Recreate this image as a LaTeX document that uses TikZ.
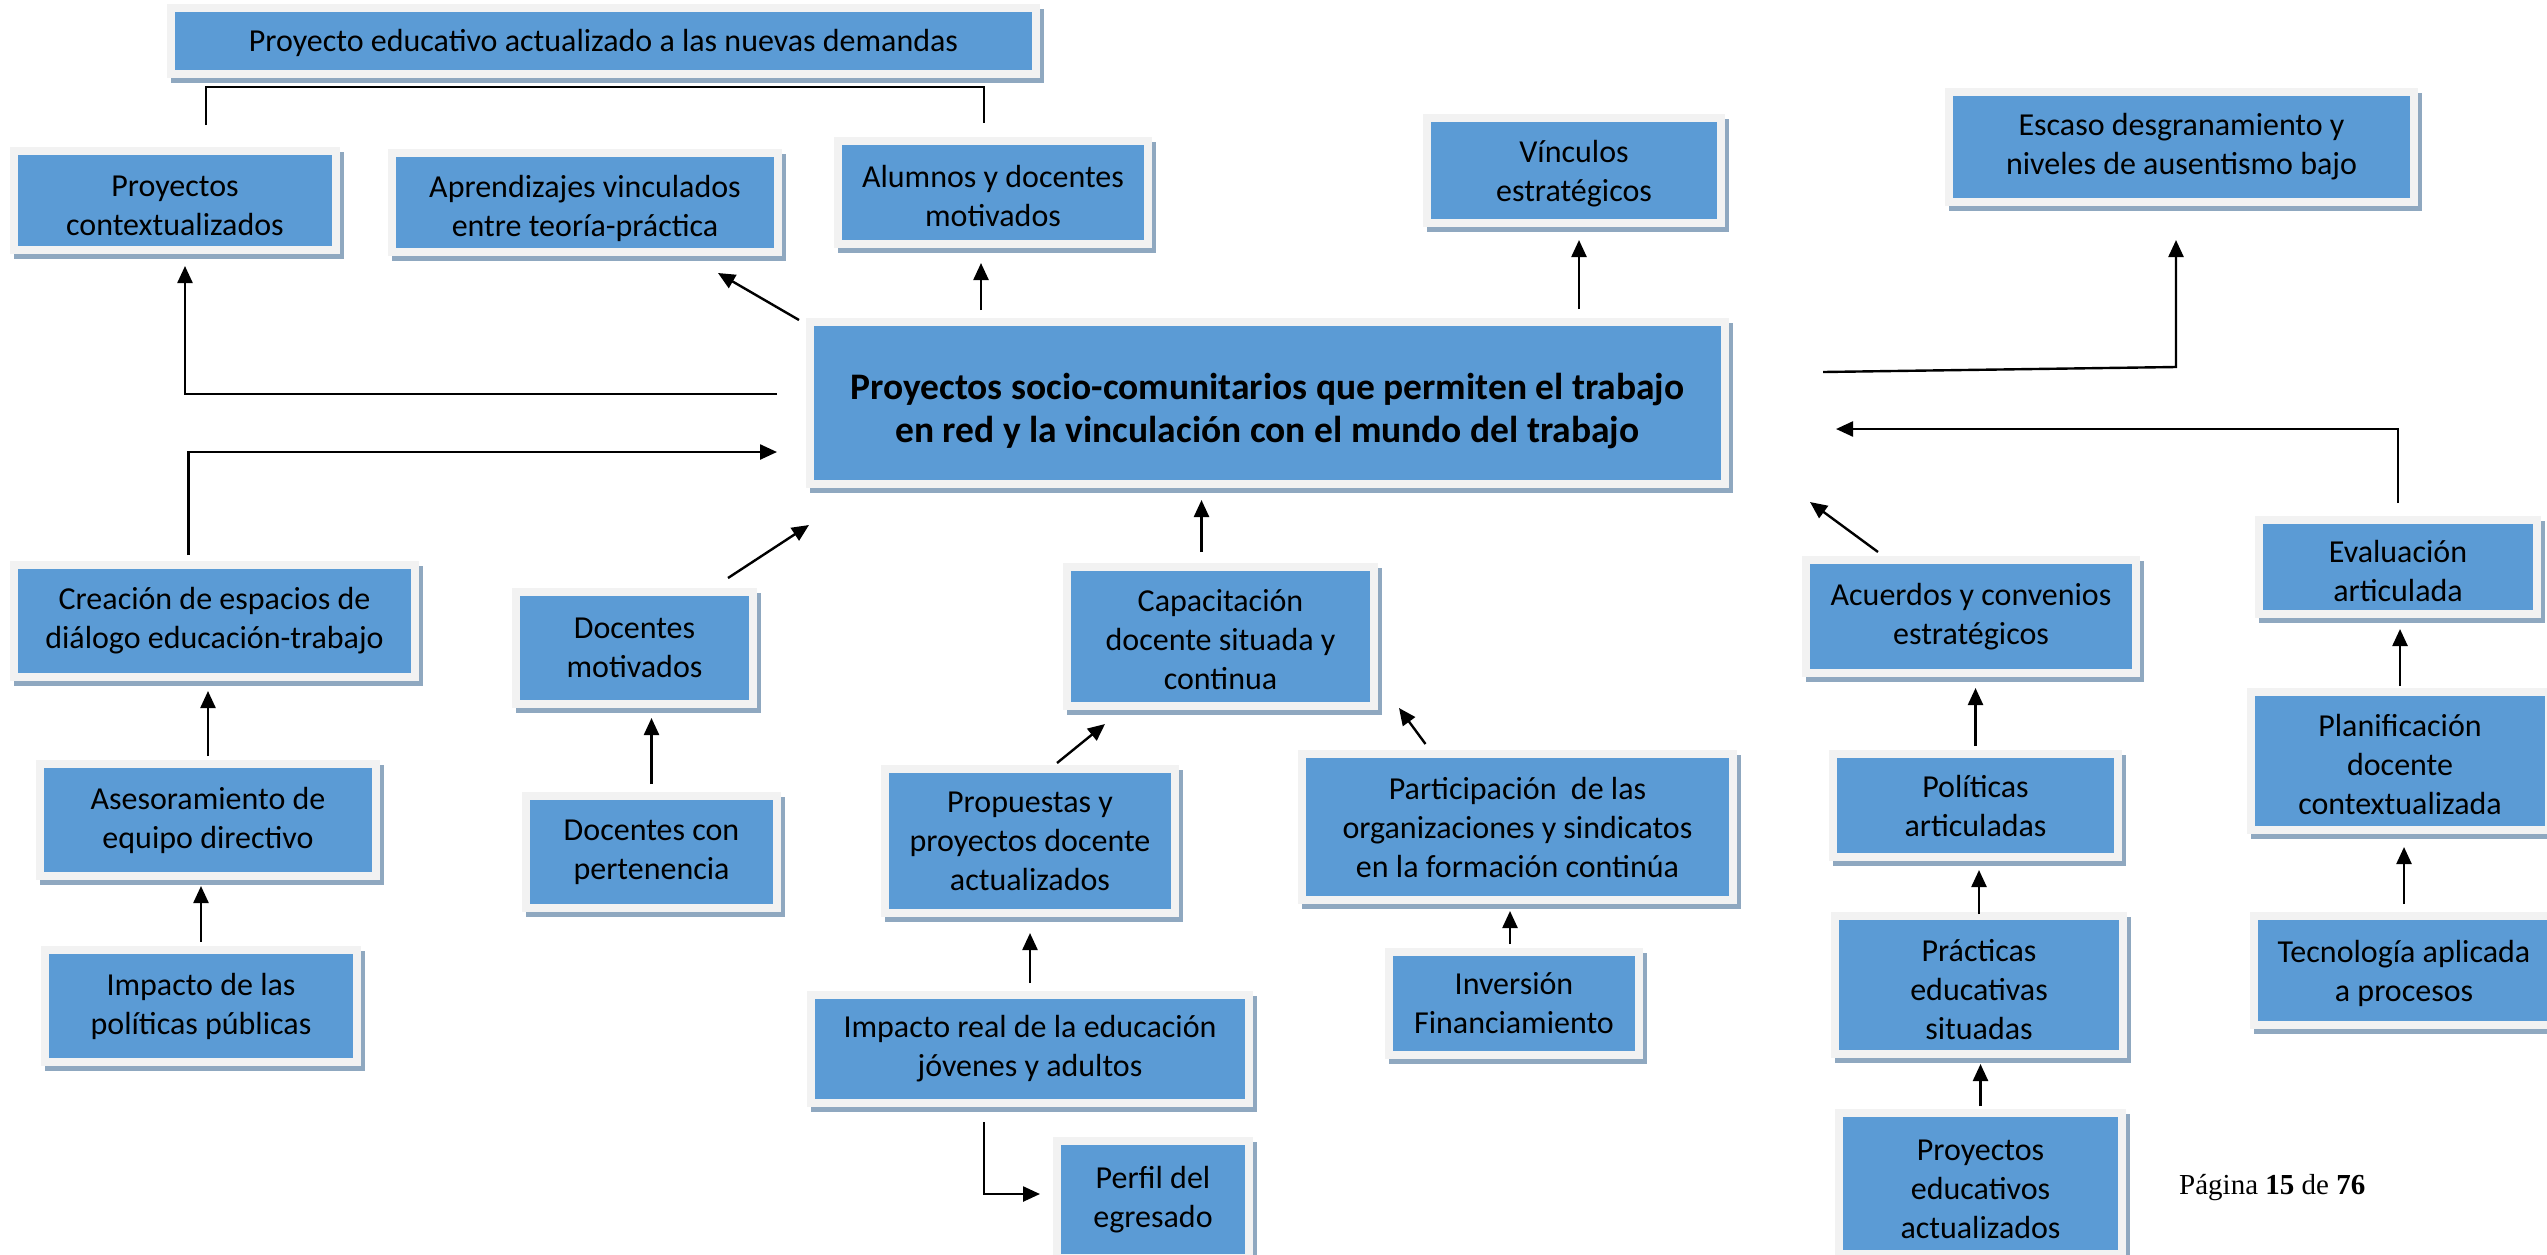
\documentclass[tikz,border=0pt]{standalone}
\usepackage{fontspec}
\setmainfont{Carlito}
\newfontfamily\pagefont{Liberation Serif}
\usetikzlibrary{arrows.meta,calc}
\definecolor{boxblue}{HTML}{5B9BD5}
\definecolor{boxframe}{HTML}{F2F2F2}
\definecolor{boxshadow}{HTML}{8FA8C0}
\tikzset{
  bx/.style={draw=boxframe, line width=8pt, fill=boxblue, outer sep=0pt, inner sep=0pt,
    preaction={draw=boxshadow, fill=boxshadow, line width=8pt, transform canvas={xshift=4pt, yshift=-5pt}}},
  txt/.style={align=center, text=black, inner sep=0pt, font=\fontsize{32}{39}\selectfont},
  arr/.style={line width=2.4pt, -{Triangle[length=17pt,width=15pt]}},
  ln/.style={line width=2.4pt},
}
% frame box: [text shift down], name, x1, y1, x2, y2, text
\newcommand{\fbx}[7][0]{%
  \node[bx, minimum width={#5-#3-8}, minimum height={#6-#4-8}] (#2) at ({(#3+#5)/2},{(#4+#6)/2}) {};
  \node[txt] (#2-t) at ([yshift=-#1pt]#2.center) {#7};}
\begin{document}
\begin{tikzpicture}[x=1pt,y=-1pt]
\fill[white] (0,0) rectangle (2547,1254);
\useasboundingbox (0,0) rectangle (2547,1254);
\begin{scope}
\clip (0,0) rectangle (2547,1254);
\fbx[2]{top}{167}{4}{1040}{78}{Proyecto educativo actualizado a las nuevas demandas}
\fbx[5]{pc}{10}{147}{340}{254}{Proyectos\\contextualizados}
\fbx[6]{apr}{388}{149}{782}{256}{Aprendizajes vinculados\\entre teoría-práctica}
\fbx[3]{alu}{834}{137}{1152}{248}{Alumnos y docentes\\motivados}
\fbx[3]{vin}{1423}{114}{1725}{227}{Vínculos\\estratégicos}
\fbx{esc}{1945}{88}{2418}{206}{Escaso desgranamiento y\\niveles de ausentismo bajo}
\node[bx, minimum width={1729-806-8}, minimum height={488-318-8}] (cen) at ({(806+1729)/2},{(318+488)/2}) {};
\node[txt, font=\fontsize{37.5}{43}\selectfont\bfseries] (cen-t) at ([yshift=-8pt]cen.center) {Proyectos socio-comunitarios que permiten el trabajo\\en red y la vinculación con el mundo del trabajo};
\fbx{cre}{10}{561}{419}{681}{Creación de espacios de\\diálogo educación-trabajo}
\fbx{dmo}{512}{588}{757}{708}{Docentes\\motivados}
\fbx[3]{cap}{1063}{563}{1378}{710}{Capacitación\\docente situada y\\continua}
\fbx{acu}{1802}{556}{2140}{677}{Acuerdos y convenios\\estratégicos}
\fbx[4]{eva}{2255}{516}{2541}{618}{Evaluación\\articulada}
\fbx{ase}{36}{760}{380}{880}{Asesoramiento de\\equipo directivo}
\fbx{dcp}{522}{792}{781}{912}{Docentes con\\pertenencia}
\fbx{pro}{881}{765}{1179}{917}{Propuestas y\\proyectos docente\\actualizados}
\fbx{par}{1298}{750}{1737}{904}{Participación\ \ de las\\organizaciones y sindicatos\\en la formación continúa}
\fbx{pol}{1829}{750}{2122}{861}{Políticas\\articuladas}
\fbx[3]{pla}{2247}{688}{2553}{834}{Planificación\\docente\\contextualizada}
\fbx{imp}{41}{946}{361}{1066}{Impacto de las\\políticas públicas}
\fbx{inv}{1385}{948}{1643}{1059}{Inversión\\Financiamiento}
\fbx[5]{pra}{1831}{912}{2127}{1058}{Prácticas\\educativas\\situadas}
\fbx[3]{tec}{2250}{912}{2558}{1029}{Tecnología aplicada\\a procesos}
\fbx{imr}{807}{991}{1253}{1107}{Impacto real de la educación\\jóvenes y adultos}
\fbx{per}{1053}{1137}{1253}{1262}{Perfil del\\egresado}
\fbx[6]{pea}{1835}{1109}{2126}{1258}{Proyectos\\educativos\\actualizados}
\end{scope}
\node[font=\pagefont\fontsize{29}{34}\selectfont, anchor=base west, inner sep=0pt] (pag) at (2179,1194) {Página \textbf{15} de \textbf{76}};

% connectors
\draw[ln] ($(top.south)+(-397.5,51)$) |- ($(top.south)+(0,13)$) -| ($(top.south)+(380.5,49)$);
\draw[arr, shorten <=8pt, shorten >=14pt] (ase.north) -- (ase.north |- cre.south);
\draw[arr, shorten <=8pt, shorten >=10pt] (imp.north) -- (imp.north |- ase.south);
\draw[arr, shorten <=12pt, shorten >=14pt] (dcp.north) -- (dcp.north |- dmo.south);
\draw[arr, shorten <=12pt, shorten >=20pt] (imr.north) -- (imr.north |- pro.south);
\draw[arr, shorten <=8pt, shorten >=11pt] ([xshift=-4pt]inv.north) -- ([xshift=-4pt]inv.north |- par.south);
\draw[arr, shorten <=15pt, shorten >=16pt] ([xshift=-19pt]cap.north) -- ([xshift=-19pt]cap.north |- cen.south);
\draw[arr, shorten <=8pt, shorten >=15pt] (pol.north) -- (pol.north |- acu.south);
\draw[arr, shorten <=2pt, shorten >=13pt] (pra.north) -- (pra.north |- pol.south);
\draw[arr, shorten <=7pt, shorten >=10pt] (pea.north) -- (pea.north |- pra.south);
\draw[arr, shorten <=6pt, shorten >=15pt] (pla.north) -- (pla.north |- eva.south);
\draw[arr, shorten <=12pt, shorten >=17pt] (tec.north) -- (tec.north |- pla.south);
\draw[arr] ($(pro.north)+(27,-6)$) -- ($(cap.south)+(-115.5,18)$);
\draw[arr] ($(par.north)+(-92,-10)$) -- ($(cap.south east)+(25,2)$);
\draw[arr] ($(acu.north)+(-93,-8)$) -- ($(cen.south east)+(85,18)$);
\draw[arr] ($(dmo.north)+(93.5,-14)$) -- ($(cen.south west)+(-1,41)$);
\draw[arr] ($(cen.north west)+(-11,-2)$) -- ($(apr.south)+(133,21)$);
\draw[arr, shorten <=12pt, shorten >=19pt] ([xshift=-12pt]alu.south |- cen.north) -- ([xshift=-12pt]alu.south);
\draw[arr, shorten <=13pt, shorten >=17pt] ([xshift=5pt]vin.south |- cen.north) -- ([xshift=5pt]vin.south);
\draw[arr] ($(cen.west)+(-33,-9)$) -| ($(pc.south)+(10,16)$);
\draw[arr] ($(cre.north)+(-26,-10)$) |- ($(cen.west)+(-33,49)$);
\draw[arr] ($(cen.east)+(98,-31)$) -- ($(esc.south)+(-5.5,165)$) -- ($(esc.south)+(-5.5,38)$);
\draw[arr] ($(eva.north)+(0,-17)$) |- ($(cen.east)+(111,26)$);
\draw[arr] ($(imr.south)+(-46,19)$) |- ($(per.west)+(-17,-5.5)$);
\end{tikzpicture}
\end{document}
